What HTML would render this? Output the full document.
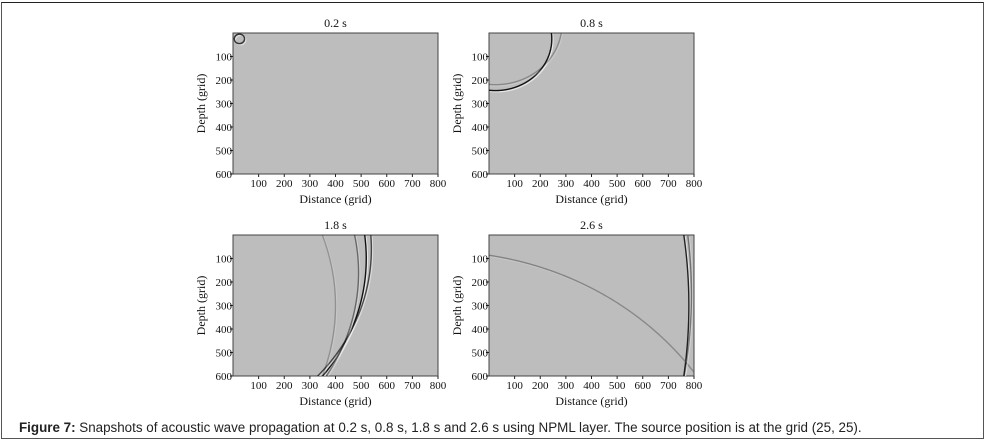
<!DOCTYPE html>
<html><head><meta charset="utf-8"><style>
html,body{margin:0;background:#fff;width:986px;height:444px;overflow:hidden;font-family:"Liberation Serif",serif}
#frame{position:absolute;left:1px;top:2px;width:983px;height:437px;box-sizing:border-box;border:1px solid #555;border-top:1.5px solid #222}
#cap{position:absolute;left:19px;top:420px;font:13.4px "Liberation Sans",sans-serif;color:#222;white-space:nowrap;line-height:16px;height:16px}
svg{overflow:hidden}
</style></head><body>
<div id="frame"></div>
<svg id="chart" width="986" height="444" style="position:absolute;left:0;top:0"></svg>
<div id="cap"><b>Figure 7:</b> Snapshots of acoustic wave propagation at 0.2 s, 0.8 s, 1.8 s and 2.6 s using NPML layer. The source position is at the grid (25, 25).</div>
<script>
const panelTitles=["0.2 s","0.8 s","1.8 s","2.6 s"];
const xTicks=[100,200,300,400,500,600,700,800];
const yTicks=[100,200,300,400,500,600];
// wavefront arcs: panel index, center x, center y, radius (grid units), darkness 0-1
const arcPanel=[0,1,1,2,2,2,2,3,3,3];
const arcCx=[25,25,25,-300,-260,-340,-500,-1500,-200,-1400];
const arcCy=[25,25,-40,100,60,160,300,300,1300,250];
const arcR=[20,220,260,820,800,830,900,2280,1230,2190];
const arcDark=[0.8,1,0.3,1,0.7,0.5,0.25,0.9,0.35,0.45];
const W=205,H=141;
const origins=[[233,33],[489,33],[233,235],[489,235]];
const svg=document.getElementById('chart');
const NS='http://www.w3.org/2000/svg';
function mk(t,a,p){const e=document.createElementNS(NS,t);for(const k in a)e.setAttribute(k,a[k]);(p||svg).appendChild(e);return e;}
function arcPath(cx,cy,r,sx,sy){
  // sample circle in grid coordinates, keep only visible segments
  let d='',pen=false;
  for(let s=0;s<=2000;s++){
    const a=s/2000*2*Math.PI, gx=cx+r*Math.cos(a), gy=cy+r*Math.sin(a);
    const inside=gx>=-2&&gx<=802&&gy>=-2&&gy<=602;
    if(inside){d+=(pen?'L':'M')+sx(gx).toFixed(2)+' '+sy(gy).toFixed(2);pen=true;}else pen=false;
  }
  return d;
}
origins.forEach((o,i)=>{
  const g=mk('g',{});
  
  
  const sx=v=>o[0]+v/800*W, sy=v=>o[1]+v/600*H;
  const cp=mk('clipPath',{id:'c'+i},g);mk('rect',{x:o[0],y:o[1],width:W,height:H},cp);
  const bg=mk('rect',{x:o[0],y:o[1],width:W,height:H,fill:'#bdbdbd',stroke:'#444','stroke-width':1},g);
  
  
  const cg=mk('g',{'clip-path':'url(#c'+i+')'},g);
  arcPanel.forEach((p,k)=>{if(p!==i)return;
    const d=arcPath(arcCx[k],arcCy[k],arcR[k],sx,sy);
    if(!d)return;
    mk('path',{d:d,transform:'translate(1.2,1.2)',fill:'none',stroke:'#f0f0f0','stroke-opacity':arcDark[k]*0.8,'stroke-width':1.3},cg);
    const e=mk('path',{d:d,fill:'none',stroke:'#111','stroke-opacity':arcDark[k],'stroke-width':1.4},cg);
    
    
  });
  const t=mk('text',{x:o[0]+W/2,y:o[1]-6,'text-anchor':'middle','font-size':12,fill:'#111'},g);t.textContent=panelTitles[i];
  
  
  xTicks.forEach(v=>{const x=sx(v);mk('line',{x1:x,x2:x,y1:o[1]+H,y2:o[1]+H+3,stroke:'#222'},g);
    const l=mk('text',{x:x,y:o[1]+H+13,'text-anchor':'middle','font-size':11,fill:'#111'},g);l.textContent=v;
    
    });
  yTicks.forEach(v=>{const y=sy(v);mk('line',{x1:o[0]-3,x2:o[0],y1:y,y2:y,stroke:'#222'},g);
    const l=mk('text',{x:o[0]-1,y:y+4,'text-anchor':'end','font-size':11,fill:'#111'},g);l.textContent=v;
    
    });
  const xt=mk('text',{x:o[0]+W/2,y:o[1]+H+29,'text-anchor':'middle','font-size':12,fill:'#111'},g);xt.textContent='Distance (grid)';
  
  
  const yt=mk('text',{x:0,y:0,'text-anchor':'middle','font-size':12,fill:'#111',transform:`translate(${o[0]-28},${o[1]+H/2}) rotate(-90)`},g);yt.textContent='Depth (grid)';
  
  
});
</script>
</body></html>
